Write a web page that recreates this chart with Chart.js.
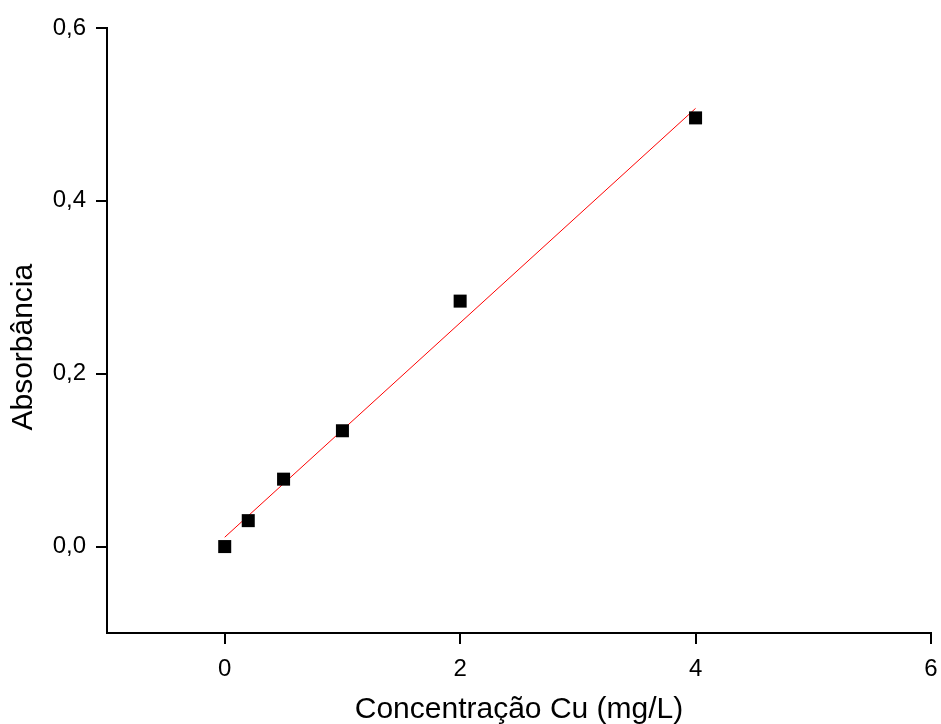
<!DOCTYPE html>
<html>
<head>
<meta charset="utf-8">
<script src="https://cdn.jsdelivr.net/npm/chart.js@4"></script>
<style>
    body { margin: 0; background: #fff; }
    #wrap { width: 941px; height: 724px; }
</style>
</head>
<body>
<div id="wrap"><canvas id="chart" width="941" height="724"></canvas></div>
<script>
// concentration (mg/L) and absorbance
const concentracao = [0, 0.2, 0.5, 1, 2, 4];
const absorbancia = [0, 0.030, 0.078, 0.134, 0.284, 0.496];
// fitted line end points as drawn
const ajusteX = [0, 4];
const ajusteY = [0.0108, 0.507];
const xTicks = [0, 2, 4, 6];
const yTicks = [0, 0.2, 0.4, 0.6];

const ctx = document.getElementById('chart').getContext('2d');
Chart.defaults.font.family = "'Liberation Sans', Arial, sans-serif";
Chart.defaults.color = '#000';

new Chart(ctx, {
    type: 'scatter',
    data: {
        datasets: [{
            label: 'Absorbância',
            data: concentracao.map((x, i) => ({x: x, y: absorbancia[i]})),
            pointStyle: 'rect',
            pointRadius: 9.2,
            pointHoverRadius: 9.2,
            backgroundColor: '#000',
            borderWidth: 0,
            order: 1
        }, {
            label: 'ajuste',
            type: 'line',
            data: ajusteX.map((x, i) => ({x: x, y: ajusteY[i]})),
            borderColor: '#ff0000',
            borderWidth: 1,
            pointRadius: 0,
            fill: false,
            order: 2
        }]
    },
    options: {
        responsive: false,
        animation: false,
        layout: { padding: { top: 28, right: 10, left: 0, bottom: 0 } },
        plugins: { legend: { display: false }, tooltip: { enabled: false } },
        scales: {
            x: {
                type: 'linear',
                min: -1,
                max: 6,
                afterBuildTicks: s => { s.ticks = xTicks.map(v => ({value: v})) },
                afterFit: s => { s.height = 91; s.paddingLeft = 0; s.paddingRight = 0 },
                grid: { drawOnChartArea: false, drawTicks: true, tickLength: 11, color: '#000', lineWidth: 2 },
                border: { display: true, color: '#000', width: 2 },
                ticks: { font: { size: 24 }, padding: 11, maxRotation: 0 },
                title: { display: true, text: 'Concentração Cu (mg/L)', font: { size: 30 }, padding: { top: 0, bottom: -4 } }
            },
            y: {
                type: 'linear',
                min: -0.1,
                max: 0.6,
                afterBuildTicks: s => { s.ticks = yTicks.map(v => ({value: v})) },
                afterFit: s => { s.width = 107; s.paddingTop = 0; s.paddingBottom = 0 },
                grid: { drawOnChartArea: false, drawTicks: true, tickLength: 11, color: '#000', lineWidth: 2 },
                border: { display: true, color: '#000', width: 2 },
                ticks: { font: { size: 24 }, padding: 10, callback: v => v.toFixed(1).replace('.', ',') },
                // trailing spaces push the label down, as in the original
                title: { display: true, text: 'Absorbância    ', font: { size: 30 }, padding: 6 }
            }
        }
    }
});
</script>
</body>
</html>
